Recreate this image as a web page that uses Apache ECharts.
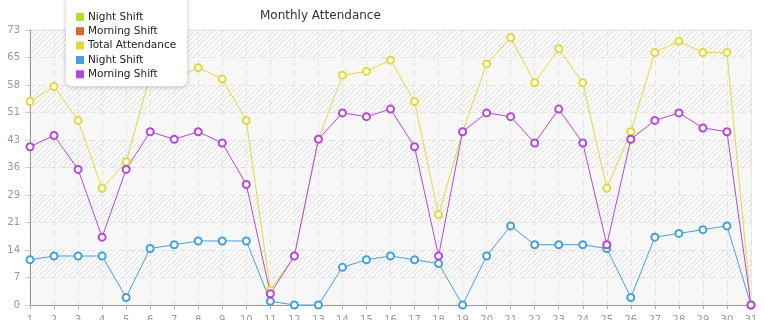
<!DOCTYPE html>
<html>
<head>
<meta charset="utf-8">
<script src="https://cdn.jsdelivr.net/npm/echarts@6/dist/echarts.min.js"></script>
<style>html,body{margin:0;padding:0;background:#fff;}#c{width:765px;height:320px;}</style>
</head>
<body>
<div id="c"></div>
<script>
const days = ['1','2','3','4','5','6','7','8','9','10','11','12','13','14','15','16','17','18','19','20','21','22','23','24','25','26','27','28','29','30','31'];
const nightShift = [12,13,13,13,2,15,16,17,17,17,1,0,0,10,12,13,12,11,0,13,21,16,16,16,15,2,18,19,20,21,0];
const morningShift = [42,45,36,18,36,46,44,46,43,32,3,13,44,51,50,52,42,13,46,51,50,43,52,43,16,44,49,51,47,46,0];
const totalAttendance = [54,58,49,31,38,61,60,63,60,49,4,13,44,61,62,65,54,24,46,64,71,59,68,59,31,46,67,70,67,67,0];
const yMax = 73;
const yInterval = 7.3;

const pc = document.createElement('canvas');
pc.width = 5; pc.height = 5;
const px = pc.getContext('2d');
px.fillStyle = '#fcfcfc'; px.fillRect(0,0,5,5);
px.strokeStyle = '#dedede'; px.lineWidth = 1;
px.beginPath();
px.moveTo(0,5); px.lineTo(5,0);
px.moveTo(-1,1); px.lineTo(1,-1);
px.moveTo(4,6); px.lineTo(6,4);
px.stroke();

const font = 'DejaVu Sans';
const chart = echarts.init(document.getElementById('c'));
function lineSeries(name, data, color) {
  return {
    name: name, type: 'line', data: data,
    symbol: 'emptyCircle', symbolSize: 7, showAllSymbol: true,
    lineStyle: {color: color, width: 1},
    itemStyle: {color: color, borderColor: color, borderWidth: 1},
    animation: false
  };
}
chart.setOption({
  animation: false,
  title: {
    text: 'Monthly Attendance', left: 260, top: 10, padding: 0,
    textStyle: {fontFamily: font, fontSize: 12, fontWeight: 'normal', color: '#333'}
  },
  legend: {
    orient: 'vertical', left: 66, top: -6,
    padding: [16, 11, 5, 10],
    backgroundColor: '#fff', borderRadius: 6,
    shadowBlur: 4, shadowColor: 'rgba(0,0,0,0.25)', shadowOffsetX: 0, shadowOffsetY: 1,
    icon: 'rect', itemWidth: 6, itemHeight: 6, itemGap: 0.3, itemTextGap: 6,
    textStyle: {fontFamily: font, fontSize: 10.5, color: '#222', lineHeight: 14},
    data: ['Night Shift', 'Morning Shift', 'Total Attendance', 'Night Shift ', 'Morning Shift '],
    selectedMode: false
  },
  grid: {
    left: 30, right: 14, top: 30, bottom: 15,
    outerBoundsMode: 'none', containLabel: false,
    show: true, backgroundColor: {image: pc, repeat: 'repeat'},
    borderColor: '#e2e2e2', borderWidth: 1
  },
  xAxis: {
    type: 'category', data: days, boundaryGap: false,
    axisLine: {lineStyle: {color: '#999'}},
    axisTick: {show: true, length: 4, lineStyle: {color: '#aaa'}, alignWithLabel: true},
    axisLabel: {fontFamily: font, fontSize: 10, color: '#999', margin: 10, interval: 0},
    splitLine: {show: true, interval: 0, lineStyle: {color: '#e3e3e3', type: [6, 4]}}
  },
  yAxis: {
    type: 'value', min: 0, max: yMax, interval: yInterval,
    axisLine: {show: true, lineStyle: {color: '#999'}},
    axisTick: {show: true, length: 5, lineStyle: {color: '#ccc'}},
    axisLabel: {fontFamily: font, fontSize: 10, color: '#999', margin: 10,
      formatter: v => String(Math.floor(v + 1e-6))},
    splitLine: {show: true, lineStyle: {color: '#e3e3e3', type: [6, 4]}},
    splitArea: {show: true, areaStyle: {color: ['rgba(247,247,247,0.85)', 'rgba(0,0,0,0)']}}
  },
  series: [
    lineSeries('Night Shift', [], '#b6dc2c'),
    lineSeries('Morning Shift', [], '#e0632c'),
    lineSeries('Total Attendance', totalAttendance, '#e4d83a'),
    lineSeries('Night Shift ', nightShift, '#45a0e0'),
    lineSeries('Morning Shift ', morningShift, '#b547e0')
  ]
});
</script>
</body>
</html>
